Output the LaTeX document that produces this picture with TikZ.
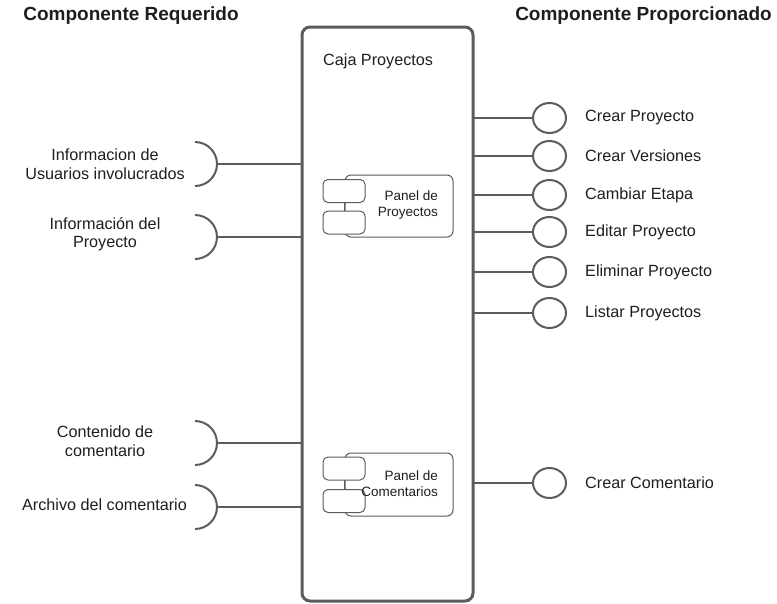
\documentclass[tikz,border=0pt]{standalone}
\usepackage{fontspec}
\setmainfont{Liberation Sans}
\usetikzlibrary{shapes.geometric}
\definecolor{lc}{HTML}{5C5C5C}
\definecolor{tc}{HTML}{1E1E1E}
\begin{document}
\begin{tikzpicture}[x=1pt,y=-1pt,
  ln/.style={draw=lc, line width=2pt},
  lbl/.style={text=tc, font=\fontsize{16.2}{18.5}\selectfont, inner sep=0pt},
  hdr/.style={text=tc, font=\fontsize{19}{22}\selectfont\bfseries, inner sep=0pt},
  prov/.style={ellipse, draw=lc, line width=2pt, minimum width=33pt, minimum height=30pt, inner sep=0pt, outer sep=0pt, fill=white},
  panel/.style={draw=lc, line width=1pt, rounded corners=6pt, fill=white},
  smallbox/.style={draw=lc, line width=1pt, rounded corners=5pt, fill=white, minimum width=42pt, minimum height=23pt, inner sep=0pt, outer sep=0pt},
  ptext/.style={text=tc, font=\fontsize{13.5}{16}\selectfont, align=right, inner sep=0pt}]
\useasboundingbox (0,0) rectangle (777,603);

% headers
\node[hdr] (h1) at (131,16) {Componente Requerido};
\node[hdr] (h2) at (643.5,16) {Componente Proporcionado};

% main box
\node[draw=lc, line width=3pt, rounded corners=8pt, minimum width=171pt, minimum height=574pt,
      anchor=north west, inner sep=0pt, outer sep=0pt] (box) at (302,27) {};
\node[lbl, anchor=west] (title) at (323,61) {Caja Proyectos};

% provided interfaces
\foreach \yy/\t/\n in {118/Crear Proyecto/1, 156/Crear Versiones/2, 195/Cambiar Etapa/3,
                       232/Editar Proyecto/4, 272/Eliminar Proyecto/5, 313/Listar Proyectos/6,
                       483/Crear Comentario/7} {
  \node[prov] (c\n) at (549.5,\yy) {};
  \node[lbl, anchor=west] (l\n) at (585,\yy) {\t};
  \draw[ln] (box.east |- c\n) -- (c\n.west);
}

% required interfaces
\foreach \yy/\n in {164/1, 237/2, 443/3, 507/4} {
  \coordinate (r\n) at (217,\yy);
  \draw[ln] (195,\yy-22) arc[start angle=90, end angle=-90, radius=22pt];
  \draw[ln] (r\n) -- (box.west |- r\n);
}
\node[lbl, align=center] (q1) at (105,164) {Informacion de\\Usuarios involucrados};
\node[lbl, align=center] (q2) at (105,234) {Información del\\Proyecto};
\node[lbl, align=center] (q3) at (105,441) {Contenido de\\comentario};
\node[lbl] (q4) at (104.5,505) {Archivo del comentario};

% panel de proyectos
\draw[panel] (345,175) rectangle (453,237);
\node[smallbox] (pa) at (344,191) {};
\node[smallbox] (pb) at (344,222.5) {};
\draw[draw=lc, line width=1pt] (pa.south) -- (pb.north);
\node[ptext, anchor=east] (pt) at (438,205) {Panel de\\Proyectos};

% panel de comentarios
\draw[panel] (345,453) rectangle (453,516);
\node[smallbox] (ca) at (344,468.5) {};
\node[smallbox] (cb) at (344,501) {};
\draw[draw=lc, line width=1pt] (ca.south) -- (cb.north);
\node[ptext, anchor=east] (ct) at (438,484) {Panel de\\Comentarios};
\end{tikzpicture}
\end{document}
